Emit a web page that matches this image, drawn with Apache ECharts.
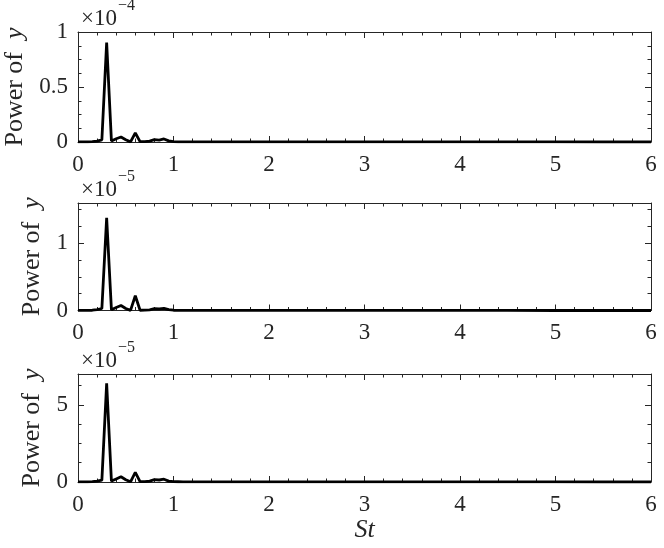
<!DOCTYPE html>
<html>
<head>
<meta charset="utf-8">
<script src="https://cdn.jsdelivr.net/npm/echarts@6/dist/echarts.min.js"></script>
<style>
html,body{margin:0;padding:0;background:#fff;}
#chart{width:664px;height:548px;}
</style>
</head>
<body>
<div id="chart"></div>
<script>
// Strouhal number (x)
const st = [0,0.05,0.1,0.15,0.2,0.25,0.3,0.35,0.4,0.45,0.5,0.55,0.6,0.65,0.7,0.75,0.8,0.85,0.9,0.95,1.0,1.05,1.1,1.2,1.5,2,2.5,3,3.5,4,4.5,5,5.5,6];
// Power of y, in units of the axis multiplier
const power1 = [0.002,0.002,0.001,0.003,0.008,0.02,0.905,0.01,0.03,0.045,0.02,0.001,0.082,0.003,0.004,0.008,0.022,0.018,0.028,0.01,0.003,0.002,0.001,0.001,0.0005,0.0005,0.0004,0.0004,0.0003,0.0003,0.0003,0.0003,0.0002,0.0002];
const power2 = [0.003,0.003,0.002,0.004,0.012,0.03,1.38,0.012,0.045,0.075,0.03,0.002,0.22,0.004,0.005,0.01,0.028,0.025,0.032,0.012,0.004,0.003,0.002,0.001,0.001,0.0008,0.0006,0.0005,0.0005,0.0004,0.0004,0.0003,0.0003,0.0003];
const power3 = [0.01,0.01,0.008,0.02,0.05,0.12,6.4,0.06,0.2,0.34,0.15,0.01,0.62,0.02,0.03,0.06,0.15,0.13,0.18,0.06,0.02,0.015,0.01,0.008,0.005,0.004,0.003,0.003,0.002,0.002,0.002,0.002,0.001,0.001];
// axes
const xTickLabels = ['0','1','2','3','4','5','6'];
const yMax = [1, 1.6, 7];
const yMajor = [0.5, 1, 5];
const yMinor = [0.125, 0.25, 1.25];
const exponents = ['\u22124', '\u22125', '\u22125'];
const yNameText = 'Power of  ';
const yNameVar = 'y';
const xName = 'St';

const FONT = '"Liberation Serif", "Times New Roman", Times, serif';
const AX = '#262626';
const gridTops = [32, 203, 374];
const gridHeights = [110, 107.5, 108];
const nameGaps = [48, 29, 29];
const powers = [power1, power2, power3];

const grid = [], xAxis = [], yAxis = [], series = [], graphic = [];
for (let i = 0; i < 3; i++) {
  grid.push({left: 78, right: 13, top: gridTops[i], height: gridHeights[i],
    containLabel: false, outerBoundsMode: 'none'});
  const xBase = {
    gridIndex: i, type: 'value', min: 0, max: 6, interval: 1,
    axisLine: {show: true, onZero: false, lineStyle: {color: AX, width: 1}},
    axisTick: {show: true, inside: true, length: 6, lineStyle: {color: AX, width: 1}},
    minorTick: {show: true, splitNumber: 5, length: 3.5, lineStyle: {color: AX, width: 1}},
    splitLine: {show: false}, minorSplitLine: {show: false}
  };
  xAxis.push(Object.assign({}, xBase, {
    position: 'bottom',
    axisLabel: {show: true, fontFamily: FONT, fontSize: 23, color: AX, margin: 11,
      formatter: v => xTickLabels[Math.round(v)] !== undefined && Math.abs(v - Math.round(v)) < 1e-9 ? xTickLabels[Math.round(v)] : ''},
    name: i === 2 ? xName : '',
    nameLocation: 'middle', nameGap: 32,
    nameTextStyle: {fontFamily: FONT, fontSize: 26, fontStyle: 'italic', color: AX}
  }));
  xAxis.push(Object.assign({}, xBase, {position: 'top', axisLabel: {show: false}}));

  const major = yMajor[i];
  const isMajor = v => Math.abs(v / major - Math.round(v / major)) < 1e-6;
  const yBase = {
    gridIndex: i, type: 'value', min: 0, max: yMax[i],
    splitLine: {show: false}, minorTick: {show: false}
  };
  yAxis.push(Object.assign({}, yBase, {
    position: 'left', interval: yMinor[i],
    axisLine: {show: true, lineStyle: {color: AX, width: 1}},
    axisTick: {show: true, inside: true, length: 3.5, lineStyle: {color: AX, width: 1}},
    axisLabel: {show: true, fontFamily: FONT, fontSize: 23, color: AX, margin: 10,
      showMaxLabel: true,
      formatter: v => isMajor(v) ? String(parseFloat((Math.round(v / major) * major).toFixed(6))) : ''},
    name: '{n|' + yNameText + '}{i|' + yNameVar + '}',
    nameLocation: 'middle', nameRotate: 90, nameGap: nameGaps[i],
    nameTextStyle: {fontFamily: FONT, fontSize: 26, color: AX,
      rich: {n: {fontFamily: FONT, fontSize: 26, color: AX},
             i: {fontFamily: FONT, fontSize: 26, color: AX, fontStyle: 'italic'}}}
  }));
  yAxis.push(Object.assign({}, yBase, {
    position: 'left', interval: major,
    axisLine: {show: false},
    axisTick: {show: true, inside: true, length: 6, lineStyle: {color: AX, width: 1}},
    axisLabel: {show: false}
  }));
  yAxis.push(Object.assign({}, yBase, {
    position: 'right', interval: yMinor[i],
    axisLine: {show: true, lineStyle: {color: AX, width: 1}},
    axisTick: {show: true, inside: true, length: 3.5, lineStyle: {color: AX, width: 1}},
    axisLabel: {show: false}
  }));
  yAxis.push(Object.assign({}, yBase, {
    position: 'right', interval: major,
    axisLine: {show: false},
    axisTick: {show: true, inside: true, length: 6, lineStyle: {color: AX, width: 1}},
    axisLabel: {show: false}
  }));

  series.push({
    type: 'line', xAxisIndex: 2 * i, yAxisIndex: 4 * i,
    data: st.map((x, k) => [x, powers[i][k]]),
    showSymbol: false, symbol: 'none', smooth: false,
    lineStyle: {color: '#000', width: 2.8}, clip: true, animation: false
  });

  const cy = gridTops[i] - 13;
  graphic.push({type: 'text', left: 81, top: cy - 12,
    style: {text: '×10', fontFamily: FONT, fontSize: 23, fill: AX}});
  graphic.push({type: 'text', left: 118, top: cy - 21,
    style: {text: exponents[i], fontFamily: FONT, fontSize: 16, fill: AX}});
}

const chart = echarts.init(document.getElementById('chart'), null, {renderer: 'canvas'});
chart.setOption({
  animation: false,
  backgroundColor: '#fff',
  grid, xAxis, yAxis, series, graphic
});
</script>
</body>
</html>
